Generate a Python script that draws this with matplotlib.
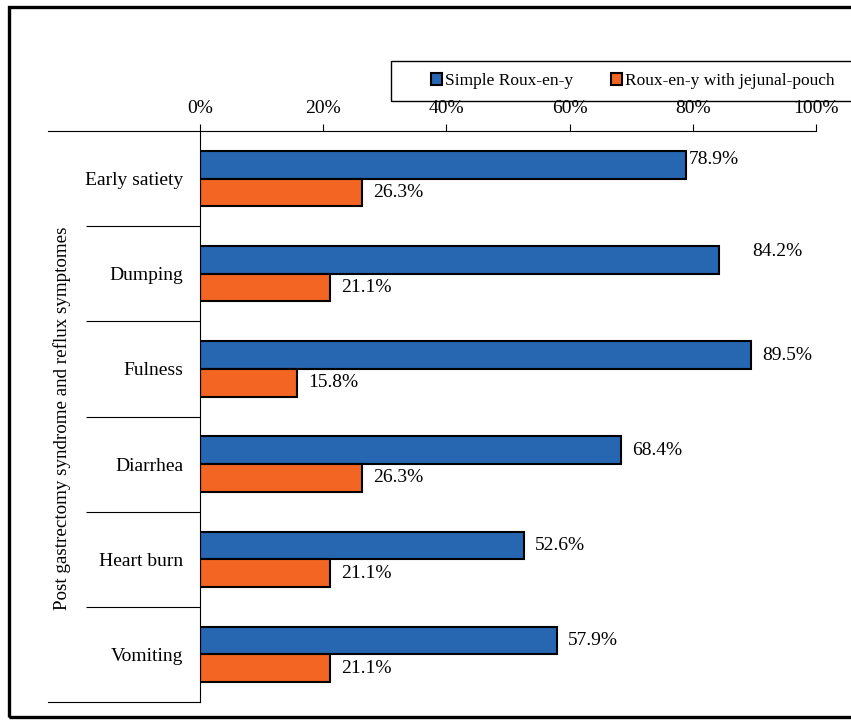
import matplotlib
matplotlib.use("Agg")
import matplotlib.pyplot as plt
from matplotlib.patches import Rectangle
import numpy as np

# data
categories = ["Early satiety", "Dumping", "Fulness", "Diarrhea", "Heart burn", "Vomiting"]
simple_rny = [78.9, 84.2, 89.5, 68.4, 52.6, 57.9]
pouch_rny = [26.3, 21.1, 15.8, 26.3, 21.1, 21.1]
series_names = ["Simple Roux-en-y", "Roux-en-y with jejunal-pouch"]
xticks = [0, 20, 40, 60, 80, 100]

BLUE = "#2766B1"
ORANGE = "#F26522"

plt.rcParams['font.family'] = ['Liberation Serif', 'DejaVu Serif']

fig = plt.figure(figsize=(8.51, 7.2), dpi=100)
ax = fig.add_axes([200 / 851, 1 - 702 / 720, 616 / 851, (702 - 131) / 720])

y = np.arange(len(categories))
h = 0.29
b1 = ax.barh(y - h / 2, simple_rny, height=h, color=BLUE, edgecolor="black", linewidth=1.5,
             label=series_names[0])
b2 = ax.barh(y + h / 2, pouch_rny, height=h, color=ORANGE, edgecolor="black", linewidth=1.5,
             label=series_names[1])

# label nudges (points) for the odd-placed labels
nudge_blue = {0: (-6, 4), 1: (16, 6)}
for i, v in enumerate(simple_rny):
    dx, dy = nudge_blue.get(i, (0, 0))
    ax.annotate(f"{v:.1f}%", (v, y[i] - h / 2), xytext=(8 + dx, dy), textcoords="offset points",
                va="center", ha="left", fontsize=14)
for i, v in enumerate(pouch_rny):
    ax.annotate(f"{v:.1f}%", (v, y[i] + h / 2), xytext=(8, 0), textcoords="offset points",
                va="center", ha="left", fontsize=14)

ax.set_xlim(0, 100)
ax.set_ylim(len(categories) - 0.5, -0.5)
ax.xaxis.tick_top()
ax.set_xticks(xticks)
ax.set_xticklabels([f"{t}%" for t in xticks], fontsize=14)
ax.tick_params(axis="x", direction="out", length=5, width=0.8, pad=5)

ax.set_yticks(y)
ax.set_yticklabels(categories, fontsize=14)
ax.tick_params(axis="y", which="major", length=0, pad=12)
ax.set_yticks(np.arange(0.5, len(categories) - 0.5, 1), minor=True)
ax.tick_params(axis="y", which="minor", length=82, width=0.8, direction="out")

for s in ["right", "bottom"]:
    ax.spines[s].set_visible(False)
for s in ["top", "left"]:
    ax.spines[s].set_linewidth(0.8)

# outer separators extending further left
tr = ax.get_yaxis_transform()
for yy in (-0.5, len(categories) - 0.5):
    ax.plot([-152 / 616, 0], [yy, yy], transform=tr, color="black", lw=0.8, clip_on=False)

fig.text(62 / 851, 1 - 418 / 720, "Post gastrectomy syndrome and reflux symptomes",
         rotation=90, ha="center", va="center", fontsize=13.7)

# legend with a box that runs off the right edge
fig.legend(handles=[b1, b2], loc="center left", bbox_to_anchor=(424 / 851, 1 - 81 / 720),
           ncol=2, frameon=False, fontsize=12.5, handlelength=0.65, handleheight=0.65,
           handletextpad=0.15, columnspacing=2.2, borderaxespad=0)
fig.patches.append(Rectangle((391 / 851, 1 - 101 / 720), 0.6, 40 / 720, transform=fig.transFigure,
                             fill=False, edgecolor="black", lw=1.0))

# outer frame (right edge cropped in the reference)
fig.patches.append(Rectangle((9 / 851, 1 - 717 / 720), 1.0, 710 / 720, transform=fig.transFigure,
                             fill=False, edgecolor="black", lw=2.4))

fig.savefig("out.png", dpi=100)
